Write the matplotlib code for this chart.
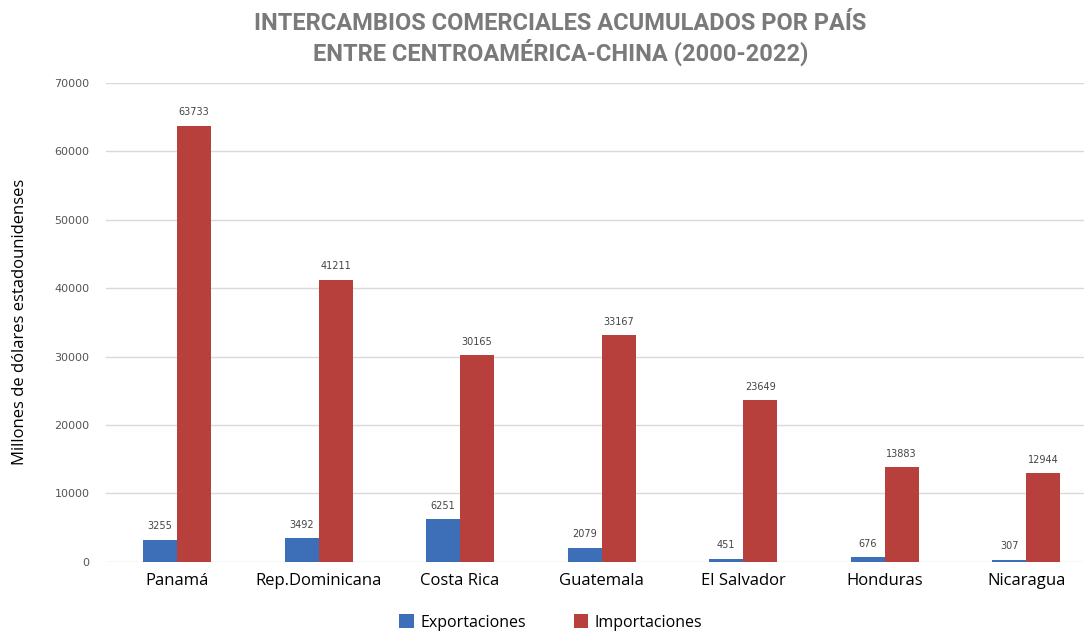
import matplotlib
matplotlib.use('Agg')
import matplotlib.pyplot as plt
import numpy as np

# Data
paises = ['Panamá', 'Rep.Dominicana', 'Costa Rica', 'Guatemala',
          'El Salvador', 'Honduras', 'Nicaragua']
exportaciones = [3255, 3492, 6251, 2079, 451, 676, 307]
importaciones = [63733, 41211, 30165, 33167, 23649, 13883, 12944]
y_ticks = [0, 10000, 20000, 30000, 40000, 50000, 60000, 70000]

azul = '#3d6fb8'
rojo = '#b8403c'

fig = plt.figure(figsize=(10.84, 6.32), dpi=100)
ax = fig.add_axes([0.098, 0.111, 0.914, 0.758])

x = np.arange(len(paises))
w = 0.24
b1 = ax.bar(x - w / 2, exportaciones, w, color=azul, label='Exportaciones', zorder=3)
b2 = ax.bar(x + w / 2, importaciones, w, color=rojo, label='Importaciones', zorder=3)

for bars, vals in ((b1, exportaciones), (b2, importaciones)):
    for b, v in zip(bars, vals):
        ax.annotate(str(v), (b.get_x() + b.get_width() / 2, v),
                    xytext=(0, 6), textcoords='offset points',
                    ha='center', va='bottom', fontsize=7, color='#444444')

ax.set_ylim(0, 70000)
ax.set_xlim(-0.5, 6.5)
ax.set_yticks(y_ticks)
ax.set_yticklabels([str(t) for t in y_ticks], fontsize=8, color='#555555')
ax.set_xticks(x)
ax.set_xticklabels(paises, fontsize=12, family=['Open Sans', 'DejaVu Sans'])
ax.tick_params(axis='both', length=0)
ax.tick_params(axis='y', pad=12)
ax.tick_params(axis='x', pad=8)
ax.grid(axis='y', color='#d9d9d9', linewidth=1, zorder=0)
for s in ax.spines.values():
    s.set_visible(False)

fig.text(0.018, 0.49, 'Millones de dólares estadounidenses', rotation=90,
         ha='center', va='center', fontsize=12, family=['Open Sans', 'DejaVu Sans'])

fig.text(0.517, 0.963, 'INTERCAMBIOS COMERCIALES ACUMULADOS POR PAÍS',
         ha='center', va='center', fontsize=17, fontweight='bold', color='#7a7a7a',
         family=['Liberation Sans Narrow', 'Roboto', 'DejaVu Sans'])
fig.text(0.517, 0.917, 'ENTRE CENTROAMÉRICA-CHINA (2000-2022)',
         ha='center', va='center', fontsize=17, fontweight='bold', color='#7a7a7a',
         family=['Liberation Sans Narrow', 'Roboto', 'DejaVu Sans'])

fig.legend(loc='center', bbox_to_anchor=(0.508, 0.015), ncol=2, frameon=False,
           prop={'family': 'Open Sans', 'size': 11.5}, handlelength=0.9,
           handleheight=0.9, handletextpad=0.4, columnspacing=3.0)

plt.savefig('out.png', dpi=100)
